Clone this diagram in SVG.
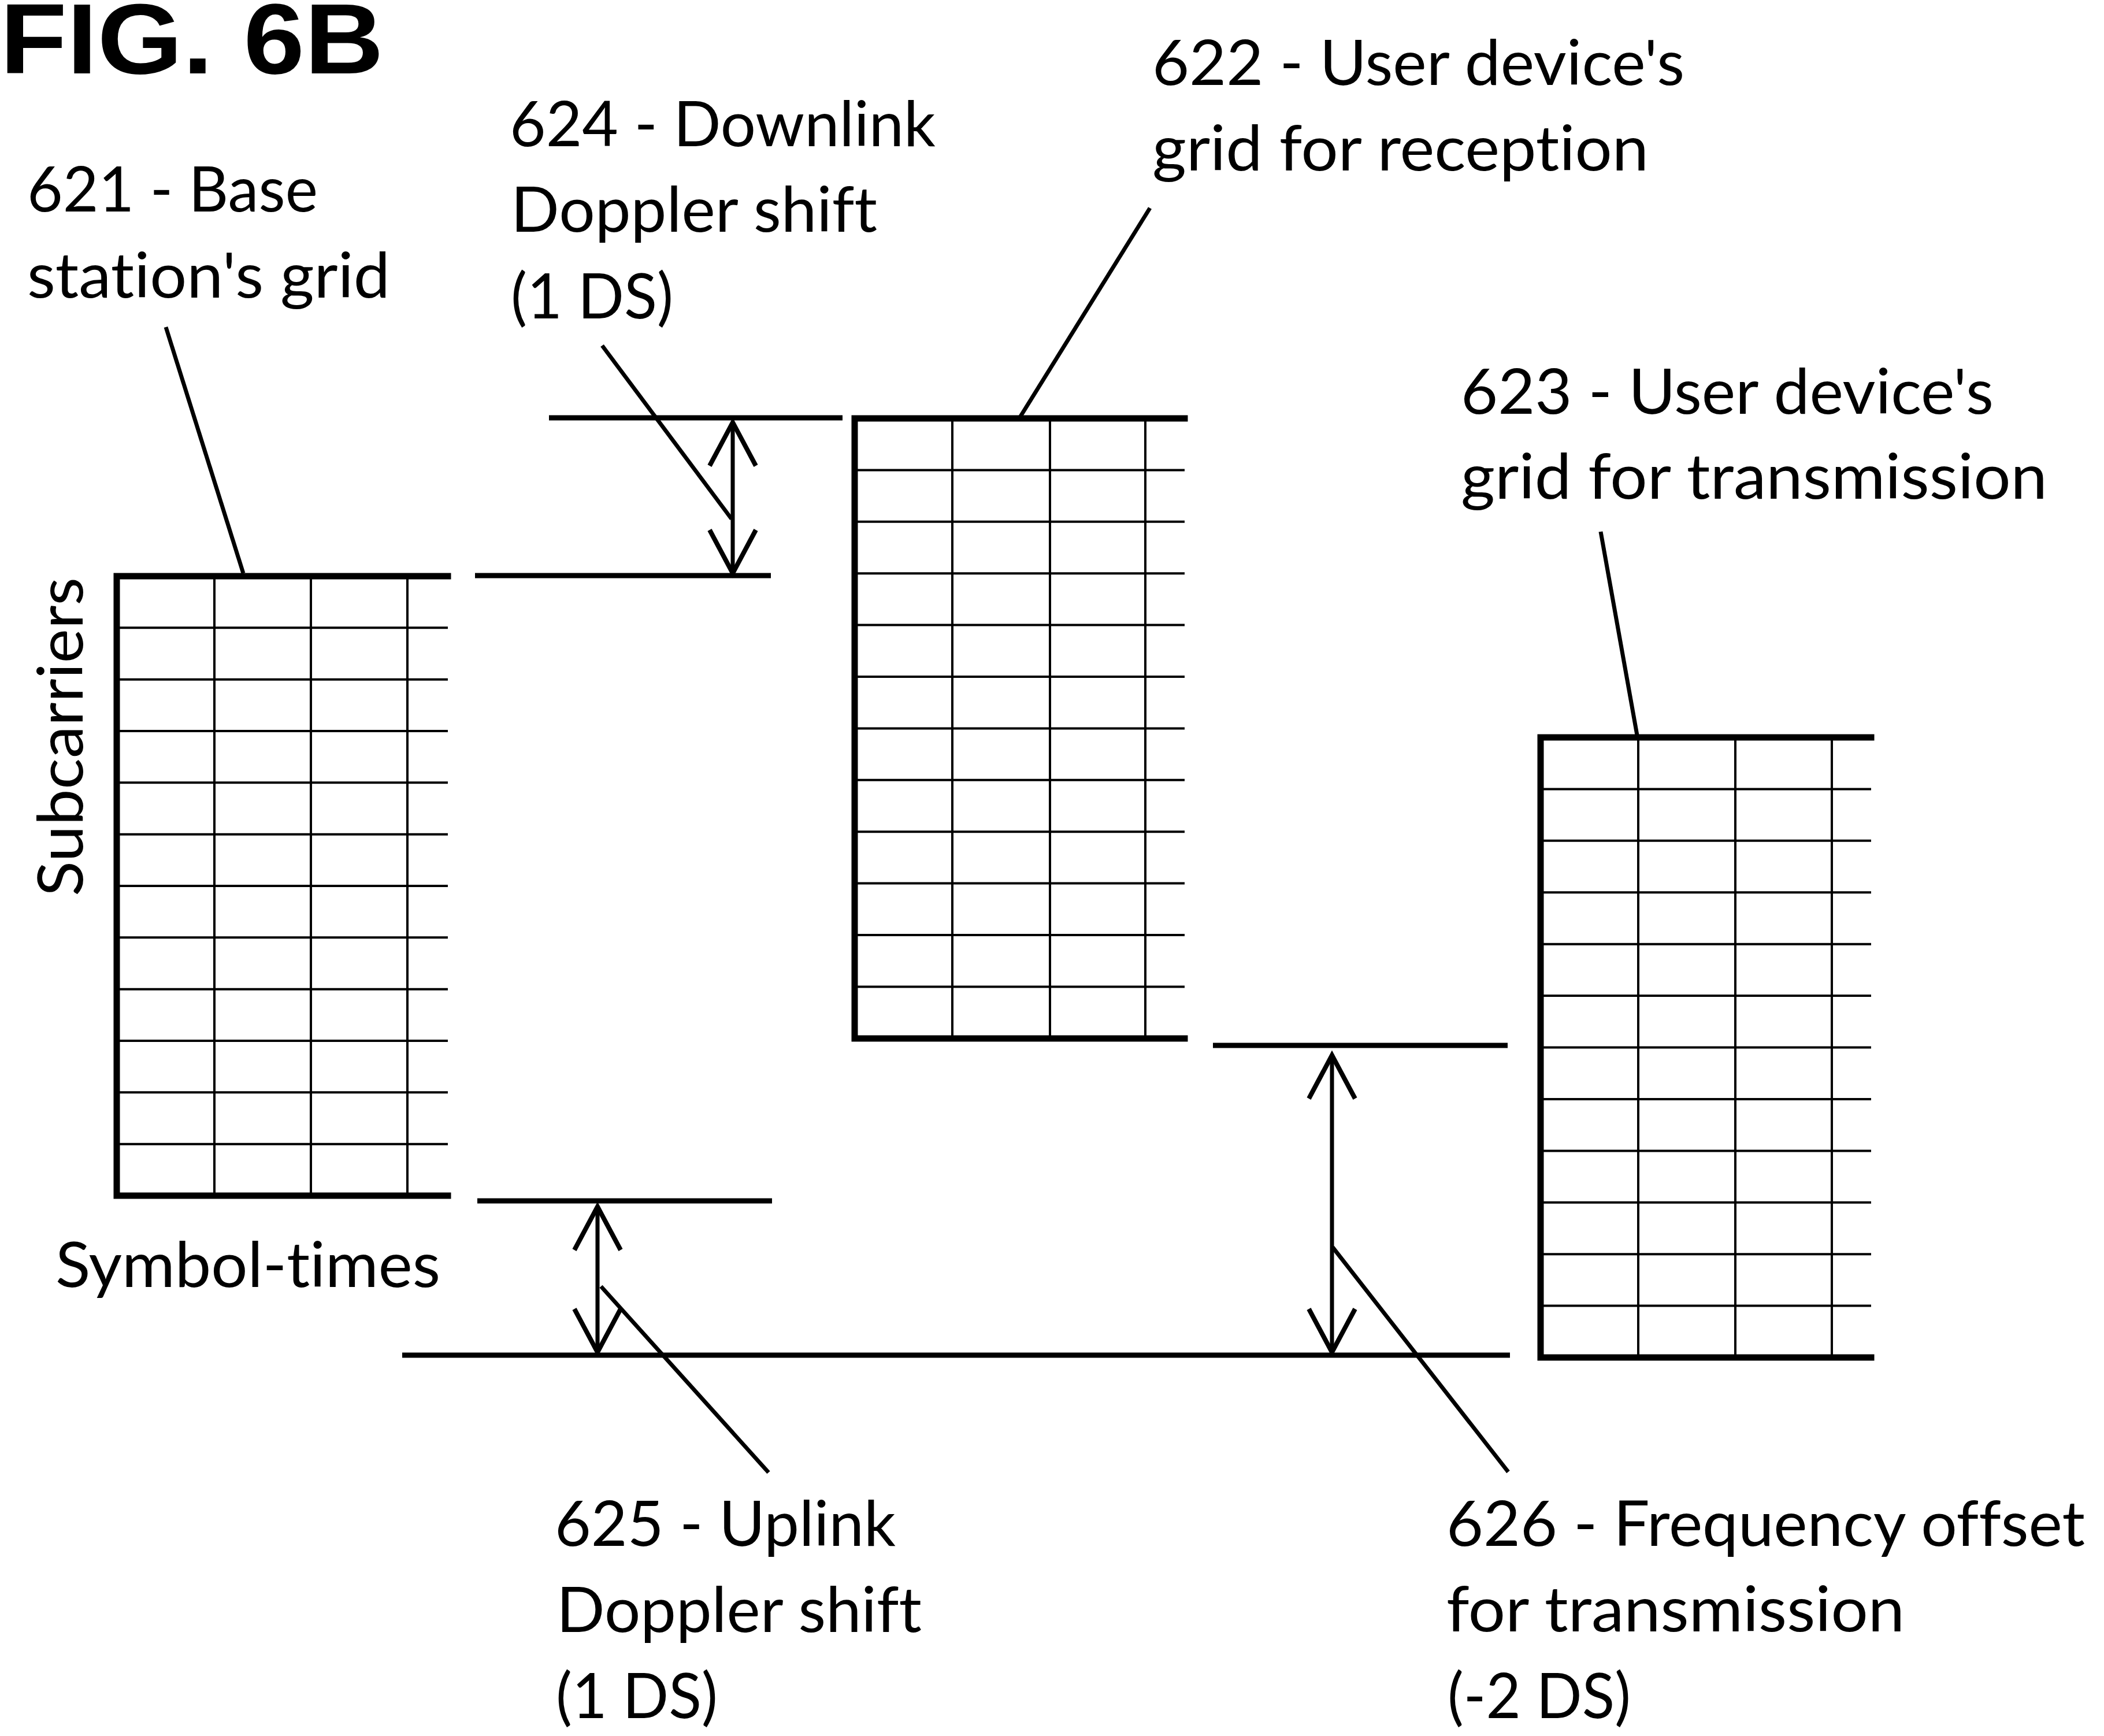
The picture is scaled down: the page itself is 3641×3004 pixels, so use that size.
<svg xmlns="http://www.w3.org/2000/svg" width="3641" height="3004" viewBox="0 0 3641 3004">
<style>
.lbl{font-family:Lato,"Open Sans","Liberation Sans",sans-serif;font-size:108px;fill:#000;font-variant-ligatures:none;font-feature-settings:"liga" 0,"clig" 0,"dlig" 0}
.title{font-family:"Liberation Sans",Arial,sans-serif;font-weight:bold;font-size:172px;fill:#000}
.thin{stroke:#000;stroke-width:4;fill:none}
.thick{stroke:#000;stroke-width:11;fill:none;stroke-linecap:square}
.dim{stroke:#000;stroke-width:9;fill:none}
.lead{stroke:#000;stroke-width:7;fill:none}
.shaft{stroke:#000;stroke-width:7;fill:none;marker-start:url(#v);marker-end:url(#v)}
</style>
<defs>
<marker id="v" markerUnits="userSpaceOnUse" viewBox="-85 -50 95 100" markerWidth="95" markerHeight="100" refX="0" refY="0" orient="auto-start-reverse" overflow="visible">
<path d="M-75,-40 L0,0 L-75,40" fill="none" stroke="#000" stroke-width="8" stroke-linejoin="miter"/>
</marker>
</defs>
<rect width="3641" height="3004" fill="#fff"/>
<text class="title" x="0" y="127" textLength="664" lengthAdjust="spacingAndGlyphs">FIG. 6B</text>

<g id="grid621">
<path class="thin" d="M202,1086.3H775M202,1175.7H775M202,1265H775M202,1354.3H775M202,1443.7H775M202,1533H775M202,1622.3H775M202,1711.7H775M202,1801H775M202,1890.3H775M202,1979.7H775M371,997V2069M538,997V2069M705,997V2069"/>
<path class="thick" d="M775,997H202V2069H775"/>
</g>
<g id="grid622">
<path class="thin" d="M1479,813.4H2050M1479,902.8H2050M1479,992.2H2050M1479,1081.6H2050M1479,1171H2050M1479,1260.4H2050M1479,1349.8H2050M1479,1439.2H2050M1479,1528.6H2050M1479,1618H2050M1479,1707.4H2050M1648,724V1797M1817,724V1797M1982,724V1797"/>
<path class="thick" d="M2050,724H1479V1797H2050"/>
</g>
<g id="grid623">
<path class="thin" d="M2666,1365.4H3238M2666,1454.8H3238M2666,1544.3H3238M2666,1633.7H3238M2666,1723.1H3238M2666,1812.5H3238M2666,1902H3238M2666,1991.4H3238M2666,2080.8H3238M2666,2170.2H3238M2666,2259.6H3238M2835,1276V2349M3003,1276V2349M3170,1276V2349"/>
<path class="thick" d="M3238,1276H2666V2349H3238"/>
</g>

<g id="connectors">
<line class="dim" x1="950" y1="723" x2="1458" y2="723"/>
<line class="dim" x1="822" y1="996" x2="1334" y2="996"/>
<line class="dim" x1="826" y1="2078" x2="1336" y2="2078"/>
<line class="dim" x1="696" y1="2345" x2="2613" y2="2345"/>
<line class="dim" x1="2099" y1="1809" x2="2609" y2="1809"/>
<line class="shaft" x1="1268" y1="731" x2="1268" y2="992"/>
<line class="shaft" x1="1034" y1="2088" x2="1034" y2="2340"/>
<line class="shaft" x1="2305" y1="1826" x2="2305" y2="2340"/>
<line class="lead" x1="287" y1="566" x2="421" y2="992"/>
<line class="lead" x1="1990" y1="360" x2="1765" y2="722"/>
<line class="lead" x1="2770" y1="920" x2="2833" y2="1272"/>
<line class="lead" x1="1042" y1="598" x2="1266" y2="898"/>
<line class="lead" x1="1040" y1="2226" x2="1330" y2="2548"/>
<line class="lead" x1="2306" y1="2158" x2="2610" y2="2547"/>
</g>

<g id="label621">
<text class="lbl" x="47" y="366" textLength="503" lengthAdjust="spacingAndGlyphs">621 - Base</text>
<text class="lbl" x="47" y="515" textLength="628" lengthAdjust="spacingAndGlyphs">station's grid</text>
</g>
<g id="label624">
<text class="lbl" x="882" y="253" textLength="737" lengthAdjust="spacingAndGlyphs">624 - Downlink</text>
<text class="lbl" x="884" y="401" textLength="634" lengthAdjust="spacingAndGlyphs">Doppler shift</text>
<text class="lbl" x="884" y="551" textLength="281" lengthAdjust="spacingAndGlyphs">(1 DS)</text>
</g>
<g id="label622">
<text class="lbl" x="1994" y="147" textLength="921" lengthAdjust="spacingAndGlyphs">622 - User device's</text>
<text class="lbl" x="1994" y="295" textLength="859" lengthAdjust="spacingAndGlyphs">grid for reception</text>
</g>
<g id="label623">
<text class="lbl" x="2528" y="716" textLength="922" lengthAdjust="spacingAndGlyphs">623 - User device's</text>
<text class="lbl" x="2528" y="863" textLength="1015" lengthAdjust="spacingAndGlyphs">grid for transmission</text>
</g>
<g id="label625">
<text class="lbl" x="960" y="2675" textLength="590" lengthAdjust="spacingAndGlyphs">625 - Uplink</text>
<text class="lbl" x="963" y="2824" textLength="632" lengthAdjust="spacingAndGlyphs">Doppler shift</text>
<text class="lbl" x="962" y="2973" textLength="280" lengthAdjust="spacingAndGlyphs">(1 DS)</text>
</g>
<g id="label626">
<text class="lbl" x="2503" y="2675" textLength="1105" lengthAdjust="spacingAndGlyphs">626 - Frequency offset</text>
<text class="lbl" x="2503" y="2823" textLength="793" lengthAdjust="spacingAndGlyphs">for transmission</text>
<text class="lbl" x="2505" y="2973" textLength="317" lengthAdjust="spacingAndGlyphs">(-2 DS)</text>
</g>
<g id="axes">
<text class="lbl" x="96" y="2227" textLength="666" lengthAdjust="spacingAndGlyphs">Symbol-times</text>
<text class="lbl" transform="translate(143,1551) rotate(-90)" x="0" y="0" textLength="552" lengthAdjust="spacingAndGlyphs">Subcarriers</text>
</g>
</svg>
